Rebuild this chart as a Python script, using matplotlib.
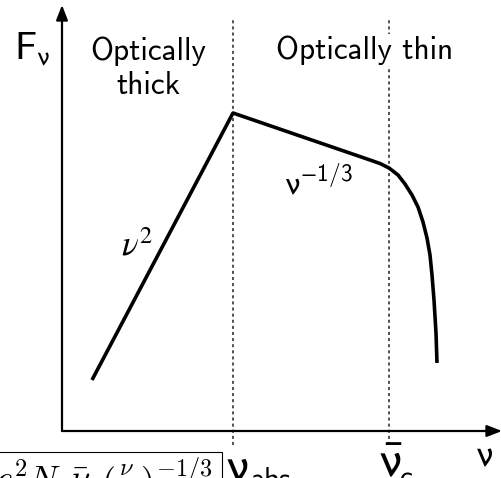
import matplotlib
matplotlib.use("Agg")
import matplotlib.pyplot as plt
from matplotlib.patches import Rectangle

plt.rcParams["mathtext.fontset"] = "custom"
plt.rcParams["mathtext.rm"] = "cmss10"
plt.rcParams["mathtext.it"] = "cmss10"
plt.rcParams["mathtext.sf"] = "cmss10"
plt.rcParams["mathtext.fallback"] = "stixsans"
plt.rcParams["axes.unicode_minus"] = False

# spectrum sketch: frequency (x) vs flux (y), arbitrary units
nu = [30, 171, 308, 318, 327, 336, 343, 350, 356, 361, 365, 368, 370, 372, 374, 375]
flux = [51, 318, 271, 267.5, 263, 256, 247, 236, 224, 209, 193, 176, 156, 131, 98, 68]

nu_abs = 171
nu_c = 327

region_labels = ["Optically\nthick", "Optically thin"]

fig = plt.figure(figsize=(5.02, 4.78), dpi=100)
ax = fig.add_axes([0, 0, 1, 1])
ax.set_xlim(-62, 440)
ax.set_ylim(-47, 431)
ax.axis("off")

# axes with arrow heads
arrow = dict(arrowstyle="-|>,head_length=0.9,head_width=0.35", lw=1.6,
             color="black", shrinkA=0, shrinkB=0)
ax.annotate("", xy=(0, 426), xytext=(0, 0), arrowprops=arrow)
ax.annotate("", xy=(440, 0), xytext=(0, 0), arrowprops=arrow)

# dotted frequency markers
for x in (nu_abs, nu_c):
    ax.plot([x, x], [-14, 411], color="#222222", lw=1.1,
            linestyle=(0, (2, 2)), zorder=1)

ax.plot(nu, flux, color="black", lw=2.6, solid_capstyle="butt",
        solid_joinstyle="round", zorder=3)

# region labels
ax.text(86, 363, region_labels[0], ha="center", va="center",
        fontsize=22.5, family="cmss10", linespacing=1.2)
ax.text(303, 381, region_labels[1], ha="center", va="center",
        fontsize=22.5, family="cmss10", zorder=4,
        bbox=dict(facecolor="white", edgecolor="none", pad=1))

ax.text(-30, 382, r"$F_{\mathrm{\nu}}$", ha="center", va="center", fontsize=28)
ax.text(75, 186, r"$\nu^2$", ha="center", va="center", fontsize=25,
        math_fontfamily="stix")
ax.text(256, 248, r"$\mathrm{\nu}^{-1/3}$", ha="center", va="center", fontsize=24)

# frequency axis labels
ax.text(422, -7, r"$\mathrm{\nu}$", ha="center", va="top", fontsize=27)
ax.text(163, -13, r"$\mathrm{\nu}$", ha="left", va="top", fontsize=36)
ax.text(189, -36, "abs", ha="left", va="top", fontsize=21, family="cmss10")
ax.text(328, -7, r"$\bar{\mathrm{\nu}}$", ha="center", va="top", fontsize=36)
ax.text(338, -34, "c", ha="left", va="top", fontsize=21, family="cmss10")

# clipped formula box at the bottom-left
ax.add_patch(Rectangle((-80, -60), 240, 39, facecolor="white",
                       edgecolor="black", lw=0.8, zorder=5))
ax.text(151, -24, r"$e^2 N_e \bar{\nu}_c \left(\frac{\nu}{\nu_c}\right)^{-1/3}$",
        ha="right", va="top", fontsize=25, math_fontfamily="cm", zorder=6)

fig.savefig("out.png", dpi=100)
